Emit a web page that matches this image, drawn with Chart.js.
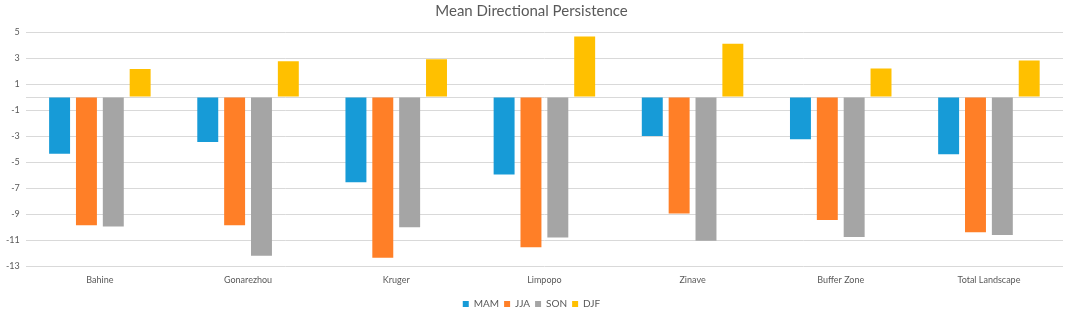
<!DOCTYPE html>
<html>
<head>
<meta charset="utf-8">
<script src="https://cdn.jsdelivr.net/npm/chart.js@4/dist/chart.umd.min.js"></script>
<style>
html,body{margin:0;padding:0;background:#fff;}
#wrap{width:1065px;height:309px;position:relative;overflow:hidden;}
</style>
</head>
<body>
<div id="wrap"><canvas id="c" width="1065" height="309"></canvas></div>
<script>
const categories = ["Bahine", "Gonarezhou", "Kruger", "Limpopo", "Zinave", "Buffer Zone", "Total Landscape"];
const MAM = [-4.35, -3.45, -6.55, -5.95, -3.0, -3.25, -4.4];
const JJA = [-9.85, -9.85, -12.35, -11.55, -8.95, -9.45, -10.4];
const SON = [-9.95, -12.2, -10.0, -10.8, -11.05, -10.75, -10.6];
const DJF = [2.15, 2.75, 2.9, 4.65, 4.1, 2.2, 2.8];
const yTicks = [5, 3, 1, 0, -1, -3, -5, -7, -9, -11, -13];
const title = "Mean Directional Persistence";

const font = "Lato, 'Open Sans', sans-serif";
Chart.defaults.font.family = font;
Chart.defaults.color = "#595959";

new Chart(document.getElementById('c'), {
  type: 'bar',
  data: {
    labels: categories,
    datasets: [
      {label: 'MAM', data: MAM, backgroundColor: '#179BD7'},
      {label: 'JJA', data: JJA, backgroundColor: '#FF7F27'},
      {label: 'SON', data: SON, backgroundColor: '#A5A5A5'},
      {label: 'DJF', data: DJF, backgroundColor: '#FFC000'}
    ]
  },
  options: {
    responsive: false,
    animation: false,
    layout: {padding: {left: 0, right: 2, top: 0, bottom: -10}},
    datasets: {bar: {categoryPercentage: 0.725, barPercentage: 0.78, borderWidth: 0}},
    plugins: {
      title: {display: true, text: title, color: '#595959', font: {size: 15, weight: 'normal'}, padding: {top: 2, bottom: 12}},
      legend: {
        position: 'bottom',
        labels: {boxWidth: 6, boxHeight: 6, font: {size: 10}, color: '#595959', padding: 5}
      },
      tooltip: {enabled: false}
    },
    scales: {
      x: {
        grid: {display: false},
        border: {display: false},
        ticks: {font: {size: 9}, color: '#595959', padding: 0},
        afterFit: (axis) => { axis.height += 9; }
      },
      y: {
        min: -13, max: 5,
        afterBuildTicks: (axis) => { axis.ticks = yTicks.map(v => ({value: v})); },
        grid: {color: '#d9d9d9', drawTicks: false},
        border: {display: false},
        ticks: {font: {size: 9}, color: '#595959', padding: 6,
          callback: (v) => v === 0 ? '' : String(v)}
      }
    }
  }
});
</script>
</body>
</html>
